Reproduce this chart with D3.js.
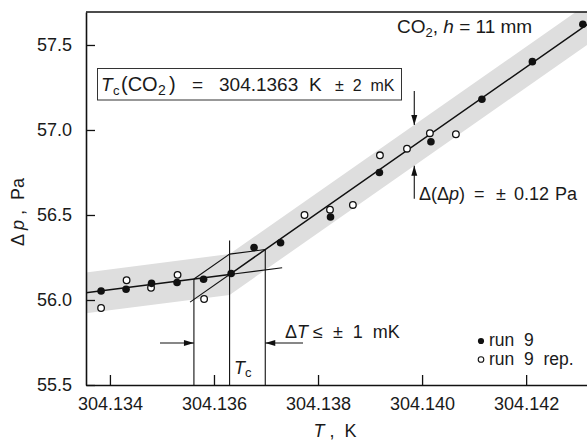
<!DOCTYPE html>
<html>
<head>
<meta charset="utf-8">
<script src="https://cdn.jsdelivr.net/npm/d3@7"></script>
<style>
  html, body { margin: 0; padding: 0; background: #fff; }
  svg { display: block; font-family: "Liberation Sans", Arial, Helvetica, sans-serif; }
  text { fill: #1a1a1a; white-space: pre; }
</style>
</head>
<body>
<svg id="chart" width="587" height="440"></svg>
<script>
// Axis extents and tick values
const tDomain = [304.13354, 304.14317];
const pDomain = [55.5, 57.694];
const xTicks = [304.134, 304.136, 304.138, 304.140, 304.142];
const yTicks = [55.5, 56.0, 56.5, 57.0, 57.5];

// run 9 (filled)
const run9T = [304.13383, 304.13431, 304.13480, 304.13529, 304.13580, 304.13633, 304.13677,
               304.13728, 304.13824, 304.13918, 304.14017, 304.14115, 304.14212, 304.14309];
const run9P = [56.053, 56.063, 56.098, 56.103, 56.122, 56.156, 56.309,
               56.337, 56.488, 56.750, 56.931, 57.181, 57.402, 57.622];

// run 9 repeated (open)
const repT = [304.13383, 304.13432, 304.13479, 304.13530, 304.13581, 304.13774,
              304.13823, 304.13867, 304.13919, 304.13971, 304.14015, 304.14065];
const repP = [55.953, 56.116, 56.072, 56.148, 56.006, 56.500,
              56.531, 56.559, 56.851, 56.890, 56.981, 56.975];

// Two-branch fit meeting at the critical point
const Tc = 304.1363;
const pc = 56.15;
const slopeLow = 39;     // Pa/K below Tc
const slopeHigh = 214;   // Pa/K above Tc
const dP = 0.12;         // band half-width, Pa
const lowExtEnd = 304.13731;
const highExtStart = 304.13554;
const arrowT = 304.13985;

const svg = d3.select("#chart");
const x = d3.scaleLinear().domain(tDomain).range([86, 587]);
const y = d3.scaleLinear().domain(pDomain).range([385, 12]);

const low = t => pc + slopeLow * (t - Tc);
const high = t => pc + slopeHigh * (t - Tc);
const fit = t => Math.max(low(t), high(t));

svg.append("defs").append("clipPath").attr("id", "plotClip")
  .append("rect").attr("x", 86).attr("y", 12).attr("width", 501).attr("height", 373);

const plot = svg.append("g").attr("clip-path", "url(#plotClip)");

// Uncertainty band ±dP around the fit
const t0 = tDomain[0], t1 = tDomain[1];
const bandPts = [
  [t0, low(t0) + dP], [Tc, pc + dP], [t1, high(t1) + dP],
  [t1, high(t1) - dP], [Tc, pc - dP], [t0, low(t0) - dP]
];
plot.append("path")
  .attr("d", d3.line().x(d => x(d[0])).y(d => y(d[1]))(bandPts) + "Z")
  .attr("fill", "#dedede");

// Main fit line
const lineGen = d3.line().x(d => x(d[0])).y(d => y(d[1]));
plot.append("path")
  .attr("d", lineGen([[t0, fit(t0)], [Tc, pc], [t1, fit(t1)]]))
  .attr("fill", "none").attr("stroke", "#111").attr("stroke-width", 1.5);

// Extensions of each branch beyond Tc
plot.append("path")
  .attr("d", lineGen([[Tc, pc], [lowExtEnd, low(lowExtEnd)]]))
  .attr("fill", "none").attr("stroke", "#111").attr("stroke-width", 1.1);
plot.append("path")
  .attr("d", lineGen([[highExtStart, high(highExtStart)], [Tc, pc]]))
  .attr("fill", "none").attr("stroke", "#111").attr("stroke-width", 1.1);

// Construction for the temperature uncertainty
const dT = dP / (slopeHigh - slopeLow);
const TL = Tc - dT, TR = Tc + dT;
plot.append("path")
  .attr("d", lineGen([[TL, low(TL)], [Tc, pc + dP], [TR, high(TR)]]))
  .attr("fill", "none").attr("stroke", "#111").attr("stroke-width", 1.1);

const vlines = [[TL, low(TL)], [Tc, pc + 0.2], [TR, high(TR)]];
plot.selectAll("line.v").data(vlines).join("line")
  .attr("class", "v")
  .attr("x1", d => x(d[0])).attr("x2", d => x(d[0]))
  .attr("y1", d => y(d[1])).attr("y2", y(pDomain[0]))
  .attr("stroke", "#111").attr("stroke-width", 1.1);

// Data points
const run9 = run9T.map((t, i) => [t, run9P[i]]);
const rep = repT.map((t, i) => [t, repP[i]]);
plot.selectAll("circle.rep").data(rep).join("circle")
  .attr("class", "rep")
  .attr("cx", d => x(d[0])).attr("cy", d => y(d[1])).attr("r", 3.3)
  .attr("fill", "#fff").attr("stroke", "#111").attr("stroke-width", 1.3);
plot.selectAll("circle.run").data(run9).join("circle")
  .attr("class", "run")
  .attr("cx", d => x(d[0])).attr("cy", d => y(d[1])).attr("r", 3.8)
  .attr("fill", "#111");

// Axes
const xAxis = d3.axisBottom(x).tickValues(xTicks).tickFormat(d3.format(".3f"))
  .tickSize(-10).tickSizeOuter(0).tickPadding(12);
const yAxis = d3.axisLeft(y).tickValues(yTicks).tickFormat(d3.format(".1f"))
  .tickSize(-9).tickSizeOuter(0).tickPadding(14);

const gx = svg.append("g").attr("transform", "translate(0,385)").call(xAxis);
const gy = svg.append("g").attr("transform", "translate(86,0)").call(yAxis);
[gx, gy].forEach(g => {
  g.select(".domain").attr("stroke", "#111").attr("stroke-width", 1.6);
  g.selectAll(".tick line").attr("stroke", "#111").attr("stroke-width", 1.3);
  g.selectAll(".tick text").attr("font-size", 18).attr("fill", "#1a1a1a")
    .style("font-family", "'Liberation Sans', Arial, sans-serif");
});
svg.append("line").attr("x1", 86).attr("x2", 587).attr("y1", 12).attr("y2", 12)
  .attr("stroke", "#111").attr("stroke-width", 1.6);

// Axis titles
const xt = svg.append("text").attr("x", 335).attr("y", 437).attr("text-anchor", "middle")
  .attr("font-size", 18);
xt.append("tspan").attr("font-style", "italic").text("T");
xt.append("tspan").text(" ,  K");

const yt = svg.append("text").attr("transform", "translate(24,212) rotate(-90)")
  .attr("text-anchor", "middle").attr("font-size", 18);
yt.append("tspan").text("Δ ");
yt.append("tspan").attr("font-style", "italic").text("p");
yt.append("tspan").text(" ,  Pa");

// Arrow helper
function arrow(xa, ya, xb, yb) {
  svg.append("line").attr("x1", xa).attr("y1", ya).attr("x2", xb).attr("y2", yb)
    .attr("stroke", "#111").attr("stroke-width", 1.1);
  const ang = Math.atan2(yb - ya, xb - xa);
  const L = 10, W = 3;
  const bx = xb - L * Math.cos(ang), by = yb - L * Math.sin(ang);
  const px = -Math.sin(ang) * W, py = Math.cos(ang) * W;
  svg.append("path")
    .attr("d", `M${xb},${yb}L${bx + px},${by + py}L${bx - px},${by - py}Z`)
    .attr("fill", "#111");
}

// Tc result box
svg.append("rect").attr("x", 97.5).attr("y", 68.5).attr("width", 304).attr("height", 31.5)
  .attr("fill", "#fff").attr("stroke", "#333").attr("stroke-width", 1);
const bt = svg.append("text").attr("y", 91).attr("font-size", 19);
bt.append("tspan").attr("x", 101).attr("font-style", "italic").text("T");
bt.append("tspan").attr("x", 113).attr("font-size", 13).attr("dy", 4).text("c");
bt.append("tspan").attr("x", 121).attr("dy", -4).attr("font-size", 20).text("(CO");
bt.append("tspan").attr("x", 158).attr("font-size", 14).attr("dy", 4).text("2");
bt.append("tspan").attr("x", 169).attr("font-size", 20).attr("dy", -4).text(")");
bt.append("tspan").attr("x", 192).text("=");
bt.append("tspan").attr("x", 219).text("304.1363");
bt.append("tspan").attr("x", 309).text("K");
bt.append("tspan").attr("x", 335).attr("font-size", 16).text("±  2  mK");

// Label at top right
const ct = svg.append("text").attr("x", 397).attr("y", 33).attr("font-size", 19);
ct.append("tspan").text("CO");
ct.append("tspan").attr("font-size", 13).attr("dy", 4).text("2");
ct.append("tspan").attr("dy", -4).text(", ");
ct.append("tspan").attr("font-style", "italic").text("h");
ct.append("tspan").text(" = 11 mm");

// Pressure uncertainty arrows
const ax = x(arrowT);
arrow(ax, y(high(arrowT) + dP) - 34, ax, y(high(arrowT) + dP));
arrow(ax, y(high(arrowT) - dP) + 33, ax, y(high(arrowT) - dP));
const pt = svg.append("text").attr("y", 200).attr("font-size", 18);
pt.append("tspan").attr("x", 419).text("Δ(Δ");
pt.append("tspan").attr("font-style", "italic").text("p");
pt.append("tspan").text(")");
pt.append("tspan").attr("x", 474).text("=");
pt.append("tspan").attr("x", 496).text("±");
pt.append("tspan").attr("x", 514).text("0.12");
pt.append("tspan").attr("x", 555).text("Pa");

// Temperature uncertainty arrows
arrow(160, 343, x(TL), 343);
arrow(303, 343, x(TR), 343);
const dt = svg.append("text").attr("x", 285).attr("y", 338).attr("font-size", 18);
dt.append("tspan").text("Δ");
dt.append("tspan").attr("font-style", "italic").text("T");
dt.append("tspan").text(" ≤  ±  1  mK");

const tcl = svg.append("text").attr("x", 234).attr("y", 374).attr("font-size", 18);
tcl.append("tspan").attr("font-style", "italic").text("T");
tcl.append("tspan").attr("font-size", 13).attr("dy", 3).text("c");

// Legend
svg.append("circle").attr("cx", 481).attr("cy", 341).attr("r", 3.1).attr("fill", "#111");
svg.append("circle").attr("cx", 481).attr("cy", 359.5).attr("r", 2.8)
  .attr("fill", "#fff").attr("stroke", "#111").attr("stroke-width", 1.1);
svg.append("text").attr("x", 489).attr("y", 346).attr("font-size", 17.5).text("run  9");
svg.append("text").attr("x", 489).attr("y", 364.5).attr("font-size", 17.5).text("run  9  rep.");
</script>
</body>
</html>
